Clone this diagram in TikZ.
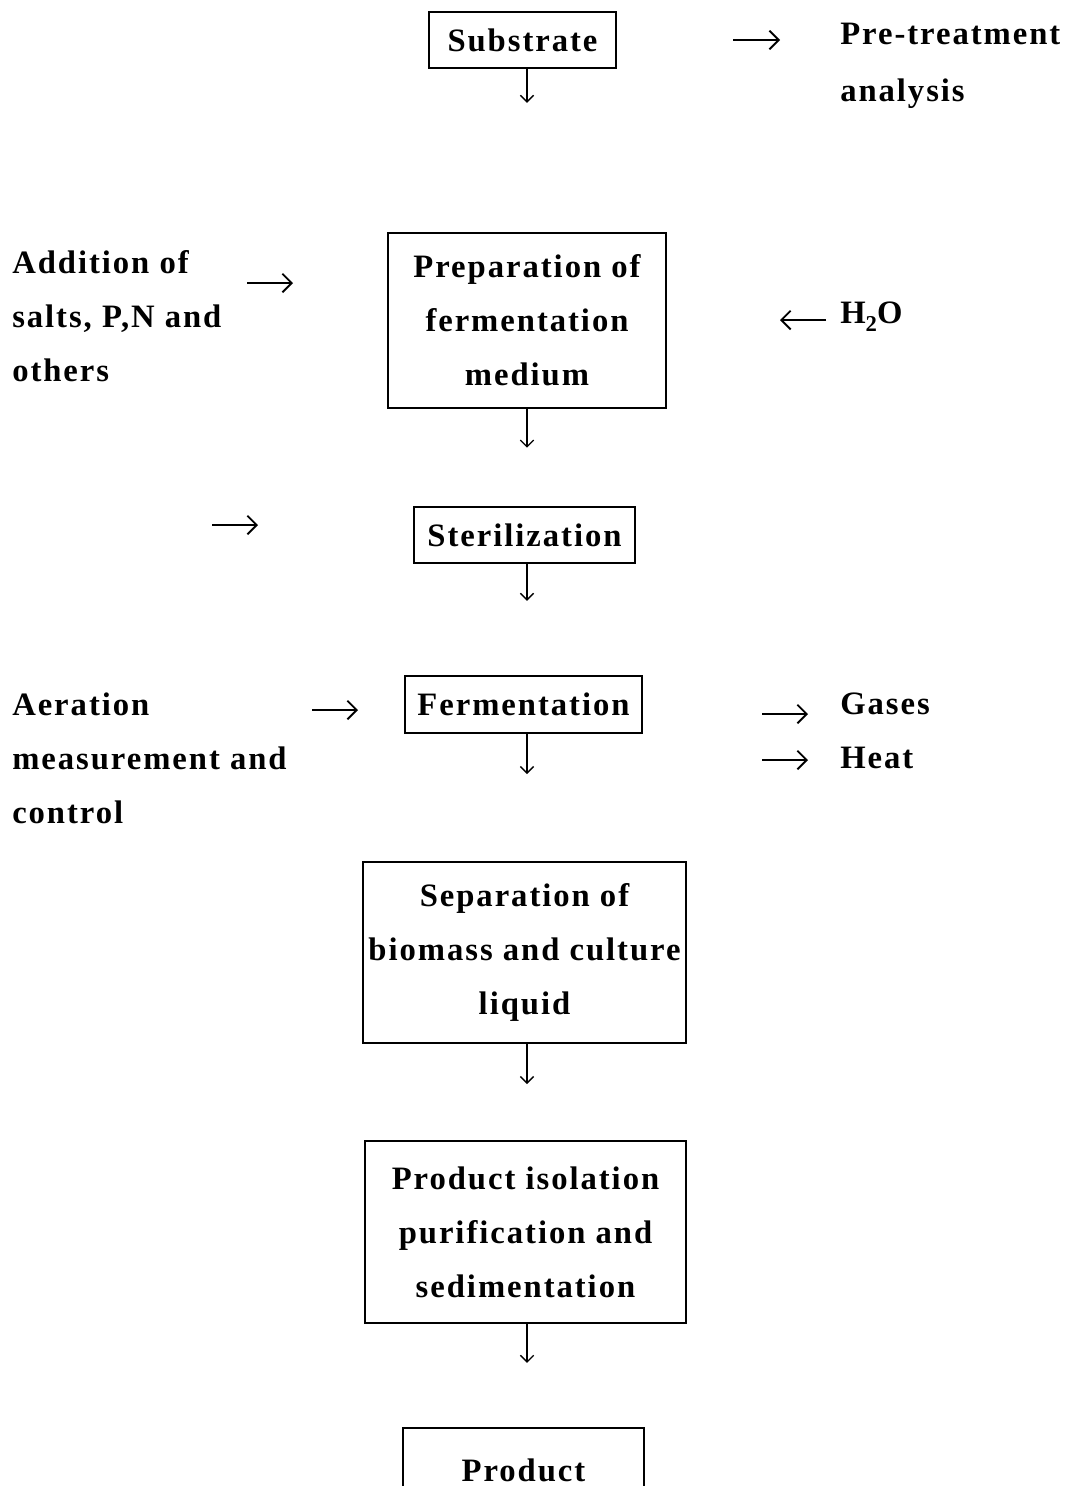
\documentclass[tikz,border=0pt]{standalone}
\usepackage{fontspec}
\setmainfont{Liberation Serif}[LetterSpace=6.0]
\usetikzlibrary{arrows.meta}
\tikzset{
    every node/.style = {
        font=\bfseries\fontsize{24.5}{40.5}\selectfont
    },
    block/.style = {
        draw,
        shape=rectangle,
        align=center,
        inner sep=0pt,
        line width=1.3pt
    },
    side/.style = {
        shape=rectangle,
        align=left,
        anchor=west,
        inner sep=0pt
    },
    flow/.style = {
        -{Straight Barb[length=5pt,width=10pt]},
        line width=1pt
    },
    feed/.style = {
        -{Straight Barb[length=7pt,width=14pt]},
        line width=1.4pt
    },
}

\begin{document}
\begin{tikzpicture}[x=0.75pt, y=-0.75pt]
            \useasboundingbox (0,0) rectangle (1066,1486);

            \coordinate (axis) at (527,0);

            \node[block, minimum width=140pt, minimum height=42pt] (sub) at (522.5,40) {Substrate};
            \node[block, minimum width=208.5pt, minimum height=131pt] (prep) at (527,320.5) {Preparation of\\fermentation\\medium};
            \node[block, minimum width=166pt, minimum height=42pt] (ster) at (524.5,535) {Sterilization};
            \node[block, minimum width=178pt, minimum height=43pt] (ferm) at (523.5,704.5) {Fermentation};
            \node[block, minimum width=242pt, minimum height=136pt] (sep) at (524.5,952.5) {Separation of\\biomass and culture\\liquid};
            \node[block, minimum width=241pt, minimum height=136.5pt] (iso) at (525.5,1232) {Product isolation\\purification and\\sedimentation};
            \node[block, minimum width=181pt, minimum height=63pt] (prod) at (523.5,1470) {Product};

            \node[side, font=\bfseries\fontsize{24.5}{42.75}\selectfont] (pre) at (840,66) {Pre-treatment\\analysis};
            \node[side] (salt) at (12,316) {Addition of\\salts, P,N and\\others};
            \node[side] (water) at (840,317) {H\raisebox{-6pt}{\fontsize{17}{17}\selectfont 2}O};
            \node[side] (aer) at (12,758) {Aeration\\measurement and\\control};
            \node[side] (gas) at (840,704) {Gases};
            \node[side] (heat) at (840,758) {Heat};

            % main line
            \draw[flow] (sub.south -| axis) -- ++(0,34);
            \draw[flow] (prep.south -| axis) -- ++(0,39);
            \draw[flow] (ster.south -| axis) -- ++(0,37);
            \draw[flow] (ferm.south -| axis) -- ++(0,40);
            \draw[flow] (sep.south -| axis) -- ++(0,40);
            \draw[flow] (iso.south -| axis) -- ++(0,39);

            % side streams
            \coordinate (pre-a) at (733,40);
            \coordinate (pre-b) at (780,40);
            \coordinate (salt-a) at (247,283);
            \coordinate (salt-b) at (293,283);
            \coordinate (water-a) at (826,320);
            \coordinate (water-b) at (780,320);
            \coordinate (ster-a) at (212,525);
            \coordinate (ster-b) at (258,525);
            \coordinate (aer-a) at (312,710);
            \coordinate (aer-b) at (358,710);
            \coordinate (gas-a) at (762,714);
            \coordinate (gas-b) at (808,714);
            \coordinate (heat-a) at (762,760);
            \coordinate (heat-b) at (808,760);

            \draw[feed] (pre-a) -- (pre-b);
            \draw[feed] (salt-a) -- (salt-b);
            \draw[feed] (water-a) -- (water-b);
            \draw[feed] (ster-a) -- (ster-b);
            \draw[feed] (aer-a) -- (aer-b);
            \draw[feed] (gas-a) -- (gas-b);
            \draw[feed] (heat-a) -- (heat-b);
\end{tikzpicture}
\end{document}
